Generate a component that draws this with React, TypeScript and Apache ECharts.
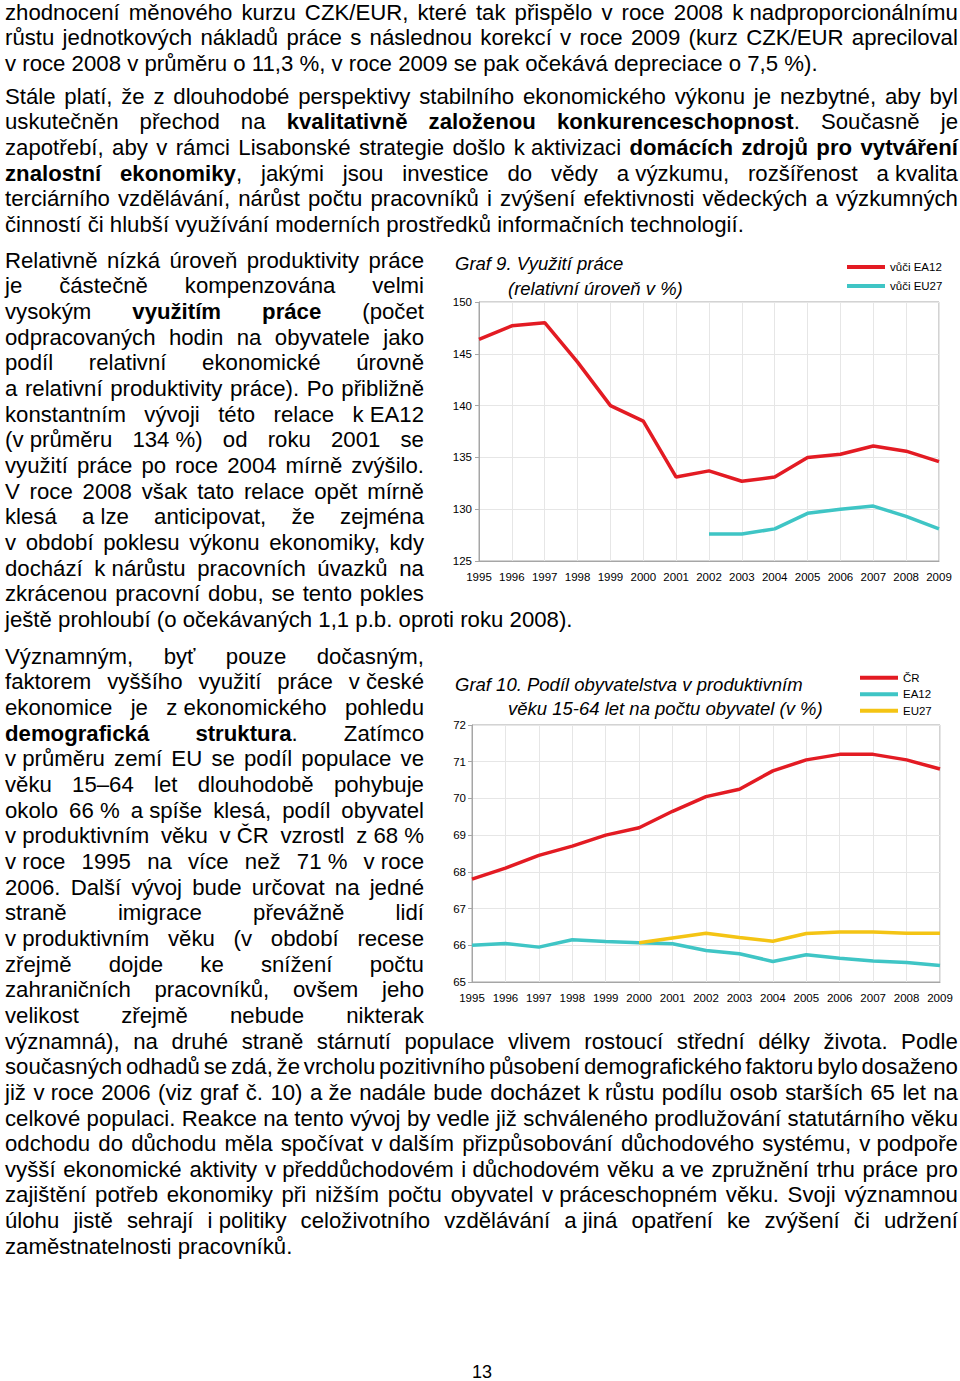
import React, { useEffect, useRef } from "react";
import * as echarts from "echarts";

// ---------- chart data ----------
const years = ["1995", "1996", "1997", "1998", "1999", "2000", "2001", "2002", "2003", "2004", "2005", "2006", "2007", "2008", "2009"];

// Graf 9 – využití práce (relativní úroveň v %)
const utilEA12 = [146.4, 147.7, 148.0, 144.2, 140.0, 138.5, 133.1, 133.7, 132.7, 133.1, 135.0, 135.3, 136.1, 135.6, 134.6];
const utilEU27 = [null, null, null, null, null, null, null, 127.6, 127.6, 128.1, 129.6, 130.0, 130.3, 129.3, 128.1];
const utilTicks = { min: 125, max: 150, interval: 5 };

// Graf 10 – podíl obyvatelstva v produktivním věku (v %)
const popCR = [67.8, 68.1, 68.45, 68.7, 69.0, 69.2, 69.65, 70.05, 70.25, 70.75, 71.05, 71.2, 71.2, 71.05, 70.8];
const popEA12 = [66.0, 66.05, 65.95, 66.15, 66.1, 66.07, 66.04, 65.86, 65.77, 65.56, 65.74, 65.65, 65.57, 65.53, 65.45];
const popEU27 = [null, null, null, null, null, 66.07, 66.2, 66.33, 66.21, 66.11, 66.32, 66.36, 66.36, 66.33, 66.33];
const popTicks = { min: 65, max: 72, interval: 1 };

const RED = "#e31b23";
const TEAL = "#3fc5c5";
const YELLOW = "#f4c414";
const FONT = '"Liberation Sans", Arial, Helvetica, sans-serif';

// ---------- page text (* toggles bold, ~ = tight non-breaking space) ----------
const para1 = [
  "zhodnocení měnového kurzu CZK/EUR, které tak přispělo v roce 2008 k~nadproporcionálnímu",
  "růstu jednotkových nákladů práce s následnou korekcí v roce 2009 (kurz CZK/EUR apreciloval",
  "v roce 2008 v průměru o 11,3 %, v roce 2009 se pak očekává depreciace o 7,5 %).",
];
const para2 = [
  "Stále platí, že z dlouhodobé perspektivy stabilního ekonomického výkonu je nezbytné, aby byl",
  "uskutečněn přechod na *kvalitativně založenou konkurenceschopnost*. Současně je",
  "zapotřebí, aby v rámci Lisabonské strategie došlo k~aktivizaci *domácích zdrojů pro vytváření*",
  "*znalostní ekonomiky*, jakými jsou investice do vědy a~výzkumu, rozšířenost a~kvalita",
  "terciárního vzdělávání, nárůst počtu pracovníků i zvýšení efektivnosti vědeckých a výzkumných",
  "činností či hlubší využívání moderních prostředků informačních technologií.",
];
const para3 = [
  "Relativně nízká úroveň produktivity práce",
  "je částečně kompenzována velmi",
  "vysokým *využitím práce* (počet",
  "odpracovaných hodin na obyvatele jako",
  "podíl relativní ekonomické úrovně",
  "a relativní produktivity práce). Po přibližně",
  "konstantním vývoji této relace k~EA12",
  "(v~průměru 134~%) od roku 2001 se",
  "využití práce po roce 2004 mírně zvýšilo.",
  "V roce 2008 však tato relace opět mírně",
  "klesá a~lze anticipovat, že zejména",
  "v období poklesu výkonu ekonomiky, kdy",
  "dochází k~nárůstu pracovních úvazků na",
  "zkrácenou pracovní dobu, se tento pokles",
  "ještě prohloubí (o očekávaných 1,1 p.b. oproti roku 2008).",
];
const para4 = [
  "Významným, byť pouze dočasným,",
  "faktorem vyššího využití práce v~české",
  "ekonomice je z~ekonomického pohledu",
  "*demografická struktura*. Zatímco",
  "v~průměru zemí EU se podíl populace ve",
  "věku 15–64 let dlouhodobě pohybuje",
  "okolo 66~% a~spíše klesá, podíl obyvatel",
  "v~produktivním věku v~ČR vzrostl z~68~%",
  "v~roce 1995 na více než 71~% v~roce",
  "2006. Další vývoj bude určovat na jedné",
  "straně imigrace převážně lidí",
  "v~produktivním věku (v období recese",
  "zřejmě dojde ke snížení počtu",
  "zahraničních pracovníků, ovšem jeho",
  "velikost zřejmě nebude nikterak",
  "významná), na druhé straně stárnutí populace vlivem rostoucí střední délky života. Podle",
  "současných odhadů se zdá, že vrcholu pozitivního působení demografického faktoru bylo dosaženo",
  "již v~roce 2006 (viz graf č. 10) a~že nadále bude docházet k~růstu podílu osob starších 65 let na",
  "celkové populaci. Reakce na tento vývoj by vedle již schváleného prodlužování statutárního věku",
  "odchodu do důchodu měla spočívat v~dalším přizpůsobování důchodového systému, v~podpoře",
  "vyšší ekonomické aktivity v~předdůchodovém i~důchodovém věku a~ve zpružnění trhu práce pro",
  "zajištění potřeb ekonomiky při nižším počtu obyvatel v~práceschopném věku. Svoji významnou",
  "úlohu jistě sehrají i~politiky celoživotního vzdělávání a~jiná opatření ke zvýšení či udržení",
  "zaměstnatelnosti pracovníků.",
];

const LINE_H = 25.65;
const NARROW = 419;
const WIDE = 953;

type Block = { start: number; lines: string[]; widths: (i: number) => number };
const blocks: Block[] = [
  { start: 12, lines: para1, widths: () => WIDE },
  { start: 96, lines: para2, widths: () => WIDE },
  { start: 260, lines: para3, widths: (i) => (i < 14 ? NARROW : WIDE) },
  { start: 656, lines: para4, widths: (i) => (i < 15 ? NARROW : WIDE) },
];

function parseWords(text: string) {
  let bold = false;
  return text.split(" ").map((word) => {
    const parts: { t: string; b: boolean }[] = [];
    let buf = "";
    for (const ch of word) {
      if (ch === "*") {
        if (buf) parts.push({ t: buf, b: bold });
        buf = "";
        bold = !bold;
      } else buf += ch === "~" ? "\u00a0" : ch;
    }
    if (buf) parts.push({ t: buf, b: bold });
    return parts;
  });
}

function Word({ parts }: { parts: { t: string; b: boolean }[] }) {
  return (
    <span style={{ whiteSpace: "pre" }}>
      {parts.map((p, i) => (
        <span key={i} style={{ fontWeight: p.b ? 700 : 400 }}>
          {p.t}
        </span>
      ))}
    </span>
  );
}

function TextLine({ text, top, width, justify }: { text: string; top: number; width: number; justify: boolean }) {
  const words = parseWords(text);
  const base: React.CSSProperties = {
    position: "absolute",
    left: 5,
    top,
    width,
    height: 20,
    lineHeight: "20px",
    fontSize: 22.2,
    fontFamily: FONT,
    color: "#000",
    whiteSpace: "nowrap",
  };
  if (justify) {
    return (
      <div style={{ ...base, display: "flex", justifyContent: "space-between" }}>
        {words.map((w, i) => (
          <Word key={i} parts={w} />
        ))}
      </div>
    );
  }
  return (
    <div style={base}>
      {words.map((w, i) => (
        <React.Fragment key={i}>
          {i > 0 ? " " : null}
          <Word parts={w} />
        </React.Fragment>
      ))}
    </div>
  );
}

function Chart() {
  const ref = useRef<HTMLDivElement>(null);
  useEffect(() => {
    if (!ref.current) return;
    const chart = echarts.init(ref.current, undefined, { renderer: "svg" });
    const axisLabel = { color: "#000", fontSize: 11.5, fontFamily: FONT };
    const gridLine = { color: "#e6e6e6", width: 1 };
    const axisGray = "#a6a6a6";
    const lineSeries = (name: string, data: (number | null)[], color: string, idx: number) => ({
      name,
      type: "line",
      data,
      xAxisIndex: idx,
      yAxisIndex: idx,
      color,
      symbol: "none",
      showSymbol: false,
      lineStyle: { color, width: 3.5 },
      itemStyle: { color },
      z: 3,
    });
    const yAx = (idx: number, t: { min: number; max: number; interval: number }, margin: number) => ({
      type: "value",
      gridIndex: idx,
      min: t.min,
      max: t.max,
      interval: t.interval,
      axisLine: { show: true, lineStyle: { color: axisGray } },
      axisTick: { show: true, length: 4, lineStyle: { color: axisGray } },
      axisLabel: { ...axisLabel, margin },
      splitLine: { show: true, lineStyle: gridLine },
    });
    const xAx = (idx: number) => ({
      type: "category",
      gridIndex: idx,
      data: years,
      boundaryGap: false,
      axisLine: { show: true, lineStyle: { color: axisGray } },
      axisTick: { show: false },
      axisLabel: { ...axisLabel, margin: 10, interval: 0 },
      splitLine: { show: true, interval: 0, lineStyle: gridLine },
    });
    const titleText = (text: string, x: number, y: number) => ({
      type: "text",
      x,
      y,
      style: { text, fill: "#000", font: `italic 18.5px ${FONT}`, verticalAlign: "middle", align: "left" },
    });
    chart.setOption({
      animation: false,
      textStyle: { fontFamily: FONT },
      grid: [
        { left: 479, top: 302, width: 460, height: 259, show: true, borderColor: axisGray, borderWidth: 1 },
        { left: 472, top: 725, width: 468, height: 257, show: true, borderColor: axisGray, borderWidth: 1 },
      ],
      xAxis: [xAx(0), xAx(1)],
      yAxis: [yAx(0, utilTicks, 7), yAx(1, popTicks, 6)],
      legend: [
        {
          data: ["vůči EA12", "vůči EU27"],
          left: 847,
          top: 260,
          padding: 0,
          orient: "vertical",
          icon: "rect",
          itemWidth: 38,
          itemHeight: 4,
          itemGap: 5,
          textStyle: { fontSize: 11.5, color: "#000", lineHeight: 14, fontFamily: FONT },
        },
        {
          data: ["ČR", "EA12", "EU27"],
          left: 860,
          top: 671,
          padding: 0,
          orient: "vertical",
          icon: "rect",
          itemWidth: 38,
          itemHeight: 4,
          itemGap: 3,
          textStyle: { fontSize: 11.5, color: "#000", lineHeight: 13.5, fontFamily: FONT },
        },
      ],
      series: [
        lineSeries("vůči EA12", utilEA12, RED, 0),
        lineSeries("vůči EU27", utilEU27, TEAL, 0),
        lineSeries("ČR", popCR, RED, 1),
        lineSeries("EA12", popEA12, TEAL, 1),
        lineSeries("EU27", popEU27, YELLOW, 1),
      ],
      graphic: [
        titleText("Graf 9. Využití práce", 455, 263),
        titleText("(relativní úroveň v %)", 508, 288),
        titleText("Graf 10. Podíl obyvatelstva v produktivním", 455, 684),
        titleText("věku 15-64 let na počtu obyvatel (v %)", 508, 708),
      ],
    });
    return () => chart.dispose();
  }, []);
  return <div ref={ref} style={{ position: "absolute", left: 0, top: 0, width: 960, height: 1381 }} />;
}

export default function App() {
  const lines: React.ReactNode[] = [];
  blocks.forEach((b, bi) => {
    b.lines.forEach((t, i) => {
      const center = b.start + i * LINE_H;
      lines.push(
        <TextLine key={`${bi}-${i}`} text={t} top={center - 9.2} width={b.widths(i)} justify={i < b.lines.length - 1} />
      );
    });
  });
  return (
    <div style={{ position: "absolute", left: 0, top: 0, width: 960, height: 1381, background: "#fff", overflow: "hidden" }}>
      <Chart />
      {lines}
      <div
        style={{ position: "absolute", left: 472, top: 1360, fontSize: 18, lineHeight: "24px", fontFamily: FONT, color: "#000" }}
      >
        13
      </div>
    </div>
  );
}
